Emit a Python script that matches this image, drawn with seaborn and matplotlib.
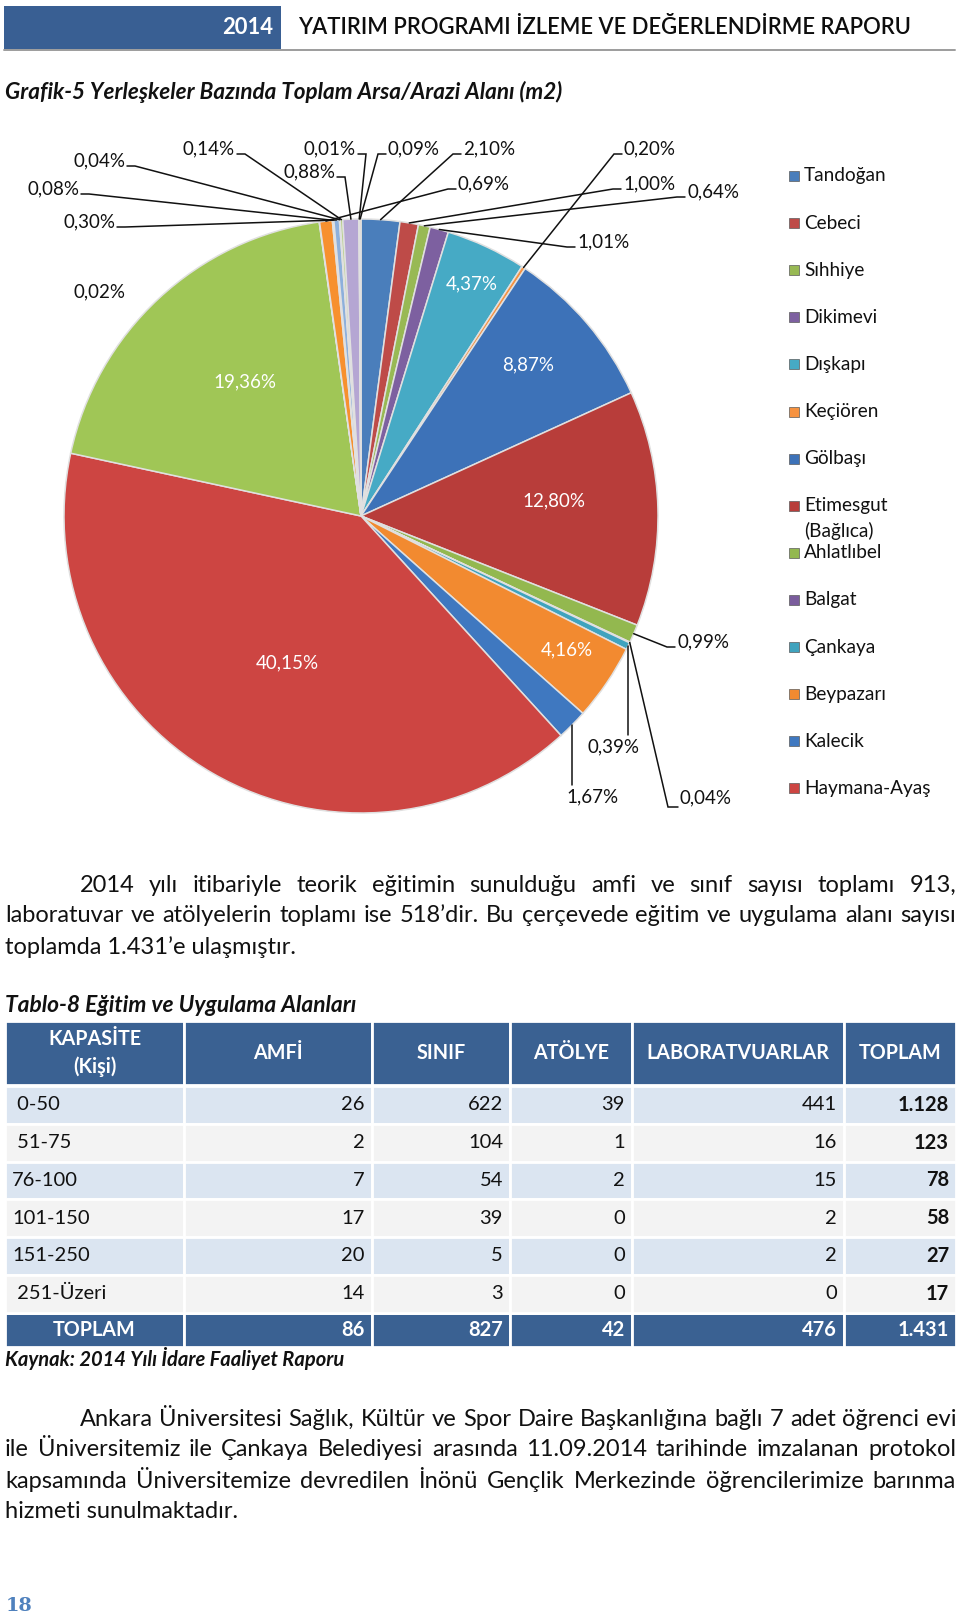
import matplotlib
matplotlib.use("Agg")
import matplotlib.pyplot as plt
from matplotlib.patches import Rectangle
import seaborn as sns
import numpy as np

# ------------------------------------------------------------------ data
legend_names = ["Tandoğan", "Cebeci", "Sıhhiye", "Dikimevi", "Dışkapı", "Keçiören",
                "Gölbaşı", "Etimesgut\n(Bağlıca)", "Ahlatlıbel", "Balgat", "Çankaya",
                "Beypazarı", "Kalecik", "Haymana-Ayaş"]
# share of each slice (%), clockwise from 12 o'clock
shares = [2.10, 1.00, 0.64, 1.01, 4.37, 0.20, 8.87, 12.80, 0.99, 0.04, 0.39, 4.16,
          1.67, 40.15, 19.36, 0.02, 0.69, 0.08, 0.30, 0.04, 0.14, 0.88, 0.01, 0.09]

kapasite = [" 0-50", " 51-75", "76-100", "101-150", "151-250", " 251-Üzeri"]
amfi = [26, 2, 7, 17, 20, 14]
sinif = [622, 104, 54, 39, 5, 3]
atolye = [39, 1, 2, 0, 0, 0]
lab = [441, 16, 15, 2, 2, 0]
table_cols = ["AMFİ", "SINIF", "ATÖLYE", "LABORATVUARLAR", "TOPLAM"]

header_year = "2014"
header_title = "YATIRIM PROGRAMI İZLEME VE DEĞERLENDİRME RAPORU"
chart_title = "Grafik-5 Yerleşkeler Bazında Toplam Arsa/Arazi Alanı (m2)"
table_title = "Tablo-8 Eğitim ve Uygulama Alanları"
source_text = "Kaynak: 2014 Yılı İdare Faaliyet Raporu"
para1 = ["2014 yılı itibariyle teorik eğitimin sunulduğu amfi ve sınıf sayısı toplamı 913,",
         "laboratuvar ve atölyelerin toplamı ise 518’dir. Bu çerçevede eğitim ve uygulama alanı sayısı",
         "toplamda 1.431’e ulaşmıştır."]
para2 = ["Ankara Üniversitesi Sağlık, Kültür ve Spor Daire Başkanlığına bağlı 7 adet öğrenci evi",
         "ile Üniversitemiz ile Çankaya Belediyesi arasında 11.09.2014 tarihinde imzalanan protokol",
         "kapsamında Üniversitemize devredilen İnönü Gençlik Merkezinde öğrencilerimize barınma",
         "hizmeti sunulmaktadır."]
page_number = "18"

# ------------------------------------------------------------------ style
slice_colors = ["#4a7ebb", "#be4b48", "#98b954", "#7d60a0", "#46aac5", "#f69240",
                "#3d72b8", "#b83d3a", "#93b84f", "#7a5c9c", "#3fa3be", "#f28a30",
                "#3f78c0", "#cd4542", "#a0c656", "#8e79b5", "#f7902e", "#9dbad9",
                "#8db0dc", "#c9a0a0", "#b8cf8a", "#b5a6d3", "#9ad0e0", "#fac08f"]
sns.set_theme(style="white")
plt.rcParams["font.family"] = ["Lato", "DejaVu Sans"]
palette = sns.color_palette(slice_colors)

W, H = 960, 1621
fig = plt.figure(figsize=(W / 100, H / 100), dpi=100, facecolor="white")

# pie geometry (page pixels)
PCX, PCY, PR = 361, 516, 297
ax = fig.add_axes([(PCX - PR) / W, 1 - (PCY + PR) / H, 2 * PR / W, 2 * PR / H])
wedges, _ = ax.pie(shares, colors=palette, startangle=90, counterclock=False, radius=1,
                   wedgeprops=dict(edgecolor="#e0e0e0", linewidth=1.1))
ax.set_xlim(-1, 1)
ax.set_ylim(-1, 1)
ax.axis("off")

pg = fig.add_axes([0, 0, 1, 1])
pg.set_xlim(0, W)
pg.set_ylim(H, 0)
pg.axis("off")

R = fig.canvas.get_renderer()


def measure(s, size, **kw):
    t = pg.text(0, 0, s, fontsize=size, **kw)
    w = t.get_window_extent(renderer=R).width
    t.remove()
    return w


def fit(s, width, **kw):
    return 20.0 * width / measure(s, 20, **kw)


def justify(line, x0, x1, y, size, **kw):
    words = line.split(" ")
    ws = [measure(w, size, **kw) for w in words]
    gap = (x1 - x0 - sum(ws)) / (len(words) - 1)
    x = x0
    for w, wd in zip(words, ws):
        pg.text(x, y, w, fontsize=size, ha="left", va="center", **kw)
        x += wd + gap


# ------------------------------------------------------------------ header
pg.add_patch(Rectangle((4, 6), 277, 43, facecolor="#395f93", edgecolor="none"))
pg.plot([4, 955], [49.5, 49.5], color="#9c9c9c", lw=1.4)
pg.text(273, 27, header_year, ha="right", va="center", color="white", weight="bold",
        fontsize=fit(header_year, 51, weight="bold"))
pg.text(298, 27, header_title, ha="left", va="center", color="#0d0d0d", weight="semibold",
        fontsize=fit(header_title, 611, weight="semibold"))

bi = dict(weight="bold", style="italic")
pg.text(5, 92, chart_title, ha="left", va="center", color="#111111",
        fontsize=fit(chart_title, 558, **bi), **bi)

# ------------------------------------------------------------------ pie labels
label_layout = {0: (463, 149, "left"), 1: (623, 184, "left"), 2: (687, 192, "left"),
                3: (577, 242, "left"), 4: (472, 284, "in"), 5: (624, 149, "left"),
                6: (528, 365, "in"), 7: (554, 501, "in"), 8: (677, 642, "left"),
                9: (680, 798, "leftlow"), 10: (614, 747, "below"), 11: (567, 650, "in"),
                12: (593, 797, "below"), 13: (287, 663, "in"), 14: (245, 382, "in"),
                15: (100, 292, "free"), 16: (458, 184, "left"), 17: (79, 189, "right"),
                18: (115, 222, "right"), 19: (125, 161, "right"), 20: (235, 149, "right"),
                21: (335, 172, "right"), 22: (356, 149, "right"), 23: (388, 149, "left")}

lab_fs = fit("0,30%", 52)
to_page = pg.transData.inverted()
for i, w in enumerate(wedges):
    v = shares[i]
    txt = f"{v:.2f}".replace(".", ",") + "%"
    x, y, mode = label_layout[i]
    th = np.deg2rad((w.theta1 + w.theta2) / 2)
    cx, cy = w.center
    ex, ey = to_page.transform(ax.transData.transform((cx + w.r * np.cos(th), cy + w.r * np.sin(th))))
    if mode == "in":
        pg.text(x, y, txt, ha="center", va="center", color="white", fontsize=lab_fs)
        continue
    ha = {"left": "left", "leftlow": "left", "right": "right"}.get(mode, "center")
    pg.text(x, y, txt, ha=ha, va="center", color="#111111", fontsize=lab_fs)
    lk = dict(color="#111111", lw=1.1, solid_joinstyle="miter")
    if mode == "left":
        pg.plot([x - 2, x - 10, ex], [y + 5, y + 5, ey], **lk)
    elif mode == "leftlow":
        pg.plot([x - 2, x - 12, ex], [y + 9, y + 9, ey], **lk)
    elif mode == "right":
        pg.plot([x + 2, x + 10, ex], [y + 5, y + 5, ey], **lk)
    elif mode == "below":
        pg.plot([ex, ex], [ey, y - 12], **lk)

# ------------------------------------------------------------------ legend
leg_fs = fit("Haymana-Ayaş", 126)
for i, name in enumerate(legend_names):
    y = 176 + 47.1 * i
    pg.add_patch(Rectangle((789, y - 5), 10, 10, facecolor=palette[i], edgecolor="#5a5a5a", lw=0.5))
    for k, part in enumerate(name.split("\n")):
        pg.text(804, y + 25 * k, part, ha="left", va="center", color="#111111", fontsize=leg_fs)

# ------------------------------------------------------------------ paragraph 1
p_fs = fit(para1[2], 292)
justify(para1[0], 80, 956, 885, p_fs, color="#111111")
justify(para1[1], 5, 956, 916, p_fs, color="#111111")
pg.text(5, 947, para1[2], ha="left", va="center", fontsize=p_fs, color="#111111")

# ------------------------------------------------------------------ table
pg.text(5, 1006, table_title, ha="left", va="center", color="#111111",
        fontsize=fit(table_title, 352, **bi), **bi)

col_edges = [5, 184, 372, 510, 632, 844, 956]
hdr_top, hdr_bot = 1021, 1085
row_h = 37.75
body_top = 1086
foot_top, foot_bot = 1313, 1347
dark = "#3a6192"
row_fc = ["#dbe5f1", "#f3f3f3"]

hfs = fit("LABORATVUARLAR", 182, weight="bold")
dfs = fit("251-Üzeri", 89)


def fmt(n):
    return f"{n:,}".replace(",", ".")


for j in range(6):
    x0, x1 = col_edges[j], col_edges[j + 1]
    pg.add_patch(Rectangle((x0, hdr_top), x1 - x0, hdr_bot - hdr_top, facecolor=dark,
                           edgecolor="white", lw=2))
    pg.add_patch(Rectangle((x0, foot_top), x1 - x0, foot_bot - foot_top, facecolor=dark,
                           edgecolor="white", lw=2))
pg.text((col_edges[0] + col_edges[1]) / 2, 1039, "KAPASİTE", ha="center", va="center",
        color="white", weight="bold", fontsize=hfs)
pg.text((col_edges[0] + col_edges[1]) / 2, 1067, "(Kişi)", ha="center", va="center",
        color="white", weight="bold", fontsize=hfs)
for j, c in enumerate(table_cols):
    pg.text((col_edges[j + 1] + col_edges[j + 2]) / 2, 1053, c, ha="center", va="center",
            color="white", weight="bold", fontsize=hfs)

row_totals = [a + b + c + d for a, b, c, d in zip(amfi, sinif, atolye, lab)]
for i in range(len(kapasite)):
    top = body_top + row_h * i
    yc = top + row_h / 2
    for j in range(6):
        x0, x1 = col_edges[j], col_edges[j + 1]
        pg.add_patch(Rectangle((x0, top), x1 - x0, row_h, facecolor=row_fc[i % 2],
                               edgecolor="white", lw=2))
    pg.text(12, yc, kapasite[i], ha="left", va="center", fontsize=dfs, color="#111111")
    vals = [amfi[i], sinif[i], atolye[i], lab[i], row_totals[i]]
    for j, v in enumerate(vals):
        pg.text(col_edges[j + 2] - 7, yc, fmt(v), ha="right", va="center", fontsize=dfs,
                color="#111111", weight="bold" if j == 4 else "normal")

foot_y = (foot_top + foot_bot) / 2
pg.text((col_edges[0] + col_edges[1]) / 2, foot_y, "TOPLAM", ha="center", va="center",
        color="white", weight="bold", fontsize=hfs)
col_totals = [sum(amfi), sum(sinif), sum(atolye), sum(lab), sum(row_totals)]
for j, v in enumerate(col_totals):
    pg.text(col_edges[j + 2] - 7, foot_y, fmt(v), ha="right", va="center", fontsize=dfs,
            color="white", weight="bold")

pg.text(5, 1359, source_text, ha="left", va="center", color="#111111",
        fontsize=fit(source_text, 341, **bi), **bi)

# ------------------------------------------------------------------ paragraph 2
justify(para2[0], 80, 956, 1419, p_fs, color="#111111")
justify(para2[1], 5, 956, 1450, p_fs, color="#111111")
justify(para2[2], 5, 956, 1481, p_fs, color="#111111")
pg.text(5, 1512, para2[3], ha="left", va="center", fontsize=p_fs, color="#111111")

# ------------------------------------------------------------------ page number
pn = dict(family=["DejaVu Serif"], weight="bold")
pg.text(6, 1606, page_number, ha="left", va="center", color="#4f81bd",
        fontsize=fit(page_number, 27, **pn), **pn)

fig.savefig("out.png", dpi=100, facecolor="white")
